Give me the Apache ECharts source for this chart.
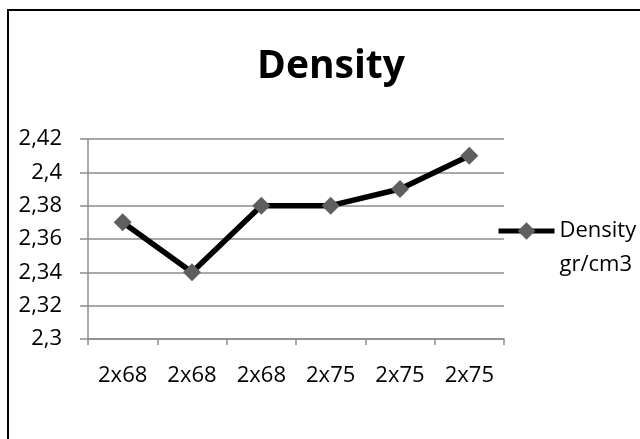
<!DOCTYPE html>
<html>
<head>
<meta charset="utf-8">
<script src="https://cdn.jsdelivr.net/npm/echarts@6/dist/echarts.min.js"></script>
<style>
  html, body { margin: 0; padding: 0; background: #fff; }
  #chart { width: 640px; height: 439px; }
</style>
</head>
<body>
<div id="chart"></div>
<script>
// chart data
const categories = ['2x68', '2x68', '2x68', '2x75', '2x75', '2x75']
const densityValues = [2.37, 2.34, 2.38, 2.38, 2.39, 2.41]
const seriesName = 'Density gr/cm3'

const chart = echarts.init(document.getElementById('chart'), null, { renderer: 'canvas' })

const font = '"Open Sans", sans-serif'
const gridGray = '#8c8c8c'

chart.setOption({
  backgroundColor: '#fff',
  animation: false,
  // outer frame (only left and top edges are visible in the picture)
  graphic: [{
    type: 'rect',
    shape: { x: 8, y: 10, width: 700, height: 500 },
    style: { fill: 'none', stroke: '#000', lineWidth: 2 },
    silent: true
  }],
  title: {
    text: 'Density',
    left: 326,
    textAlign: 'center',
    top: 42,
    textStyle: { fontFamily: font, fontSize: 39, fontWeight: 'bold', color: '#000' }
  },
  legend: {
    left: 496,
    top: 180,
    padding: 0,
    itemWidth: 56,
    itemHeight: 22,
    // blank first line keeps the icon level with "Density"
    formatter: (name) => '\u00a0\n' + name.replace(' ', '\n'),
    lineStyle: { color: '#000', width: 5 },
    itemStyle: { color: '#5f5f5f', borderWidth: 0 },
    textStyle: {
      fontFamily: font,
      fontSize: 22,
      color: '#000',
      lineHeight: 34
    }
  },
  grid: {
    left: 88,
    right: 136,
    top: 139,
    bottom: 100,
    containLabel: false
  },
  xAxis: {
    type: 'category',
    data: categories,
    boundaryGap: true,
    axisLine: { show: true, lineStyle: { color: gridGray, width: 1.5 } },
    axisTick: { show: true, length: 6, lineStyle: { color: gridGray, width: 1.5 } },
    axisLabel: {
      fontFamily: font,
      fontSize: 22,
      color: '#000',
      margin: 26,
      interval: 0
    },
    splitLine: { show: false }
  },
  yAxis: {
    type: 'value',
    min: 2.3,
    max: 2.42,
    interval: 0.02,
    axisLine: { show: true, lineStyle: { color: gridGray, width: 1.5 } },
    axisTick: { show: true, length: 8, lineStyle: { color: gridGray, width: 1.5 } },
    axisLabel: {
      fontFamily: font,
      fontSize: 22,
      color: '#000',
      margin: 26,
      formatter: (v) => String(+v.toFixed(2)).replace('.', ',')
    },
    splitLine: { show: true, lineStyle: { color: gridGray, width: 1.5 } }
  },
  series: [{
    name: seriesName,
    type: 'line',
    data: densityValues,
    symbol: 'diamond',
    symbolSize: 18,
    lineStyle: { color: '#000', width: 5.5 },
    itemStyle: { color: '#5f5f5f', borderWidth: 0 }
  }]
})
</script>
</body>
</html>
